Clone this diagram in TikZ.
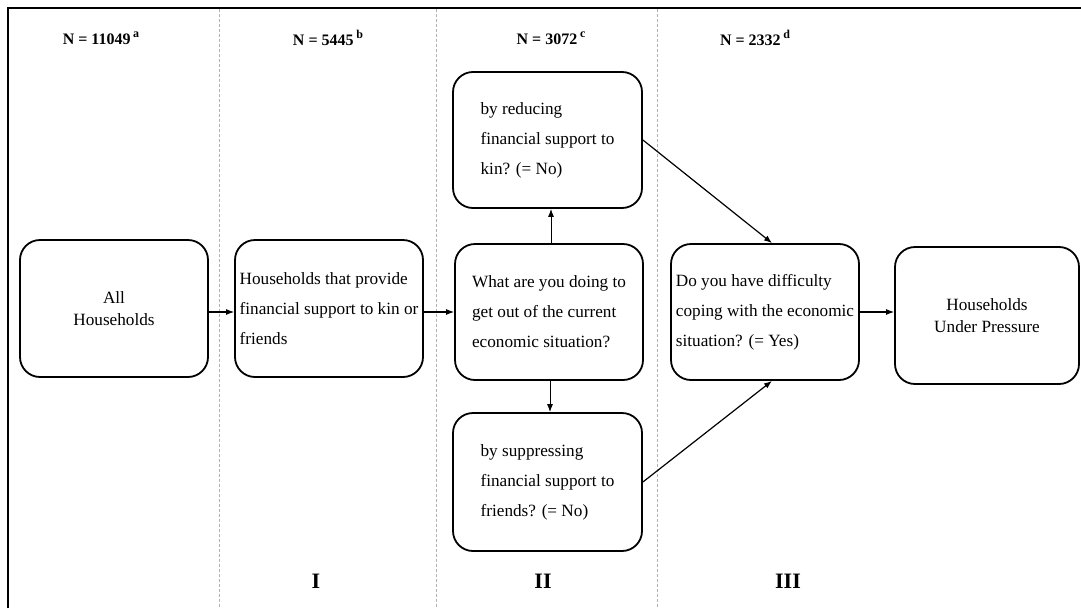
\documentclass[tikz,border=0pt]{standalone}
\usepackage{fontspec}
\setmainfont{Liberation Serif}
\usetikzlibrary{arrows.meta}
\newcommand{\nsup}[1]{\,\raisebox{0.42em}{\fontsize{12}{12}\selectfont #1}}
\begin{document}
\begin{tikzpicture}[x=1pt,y=-1pt,
    qbox/.style = {rectangle,draw,line width=1.8pt,rounded corners=20pt,minimum width=188pt,minimum height=137pt,inner sep=0pt,align=left,font=\fontsize{17.2}{30}\selectfont},
    cbox/.style = {qbox,align=center,font=\fontsize{17.2}{22}\selectfont},
    head/.style = {font=\fontsize{16}{18}\selectfont\bfseries},
    stage/.style = {font=\fontsize{22}{24}\selectfont\bfseries},
    sep/.style = {gray!60,dashed,dash pattern=on 3pt off 2pt,line width=0.6pt},
    link/.style = {line width=1.2pt,-{Latex[length=8pt,width=6pt]}}]
\useasboundingbox (0,0) rectangle (1081,608);
\draw[line width=2pt] (7.5,608) -- (7.5,8) -- (1081,8);
\foreach \x in {219, 436, 657}
    \draw[sep] (\x,9) -- (\x,608);
% sample sizes
\node[head] (n1) at (101,38) {N = 11049\nsup{a}};
\node[head] (n2) at (328,38) {N = 5445\nsup{b}};
\node[head] (n3) at (551,38) {N = 3072\nsup{c}};
\node[head] (n4) at (755,38) {N = 2332\nsup{d}};
% boxes
\node[cbox] (all) at (114,308.5) {All\\Households};
\node[qbox] (prov) at (329,308.5) {Households that provide\\financial support to kin or\\friends};
\node[qbox,minimum height=136pt] (ask) at (549,312) {What are you doing to\\get out of the current\\economic situation?};
\node[qbox,minimum width=189pt,minimum height=136pt] (kin) at (547.5,140) {by reducing\\financial support to\\kin? (= No)};
\node[qbox,minimum width=189pt,minimum height=138pt] (fri) at (547.5,482) {by suppressing\\financial support to\\friends? (= No)};
\node[qbox,minimum height=136pt] (cope) at (765,312) {Do you have difficulty\\coping with the economic\\situation? (= Yes)};
\node[cbox,minimum width=184pt] (hup) at (987,315.5) {Households\\Under Pressure};
% stages
\node[stage] (s1) at (316,581) {I};
\node[stage] (s2) at (543,581) {II};
\node[stage] (s3) at (788,581) {III};
% arrows
\draw[link] (all.east |- 0,312) -- (prov.west |- 0,312);
\draw[link] (prov.east |- 0,312) -- (ask.west |- 0,312);
\draw[link,line width=0.9pt] ([xshift=2pt]ask.north) -- ([xshift=2pt]ask.north |- kin.south);
\draw[link,line width=0.9pt] ([xshift=1pt]ask.south) -- ([xshift=1pt]ask.south |- fri.north);
\draw[link] (kin.east) -- ([xshift=7pt]cope.north);
\draw[link] (fri.east) -- ([xshift=7pt]cope.south);
\draw[link] (cope.east |- 0,312) -- (hup.west |- 0,312);
\end{tikzpicture}
\end{document}
